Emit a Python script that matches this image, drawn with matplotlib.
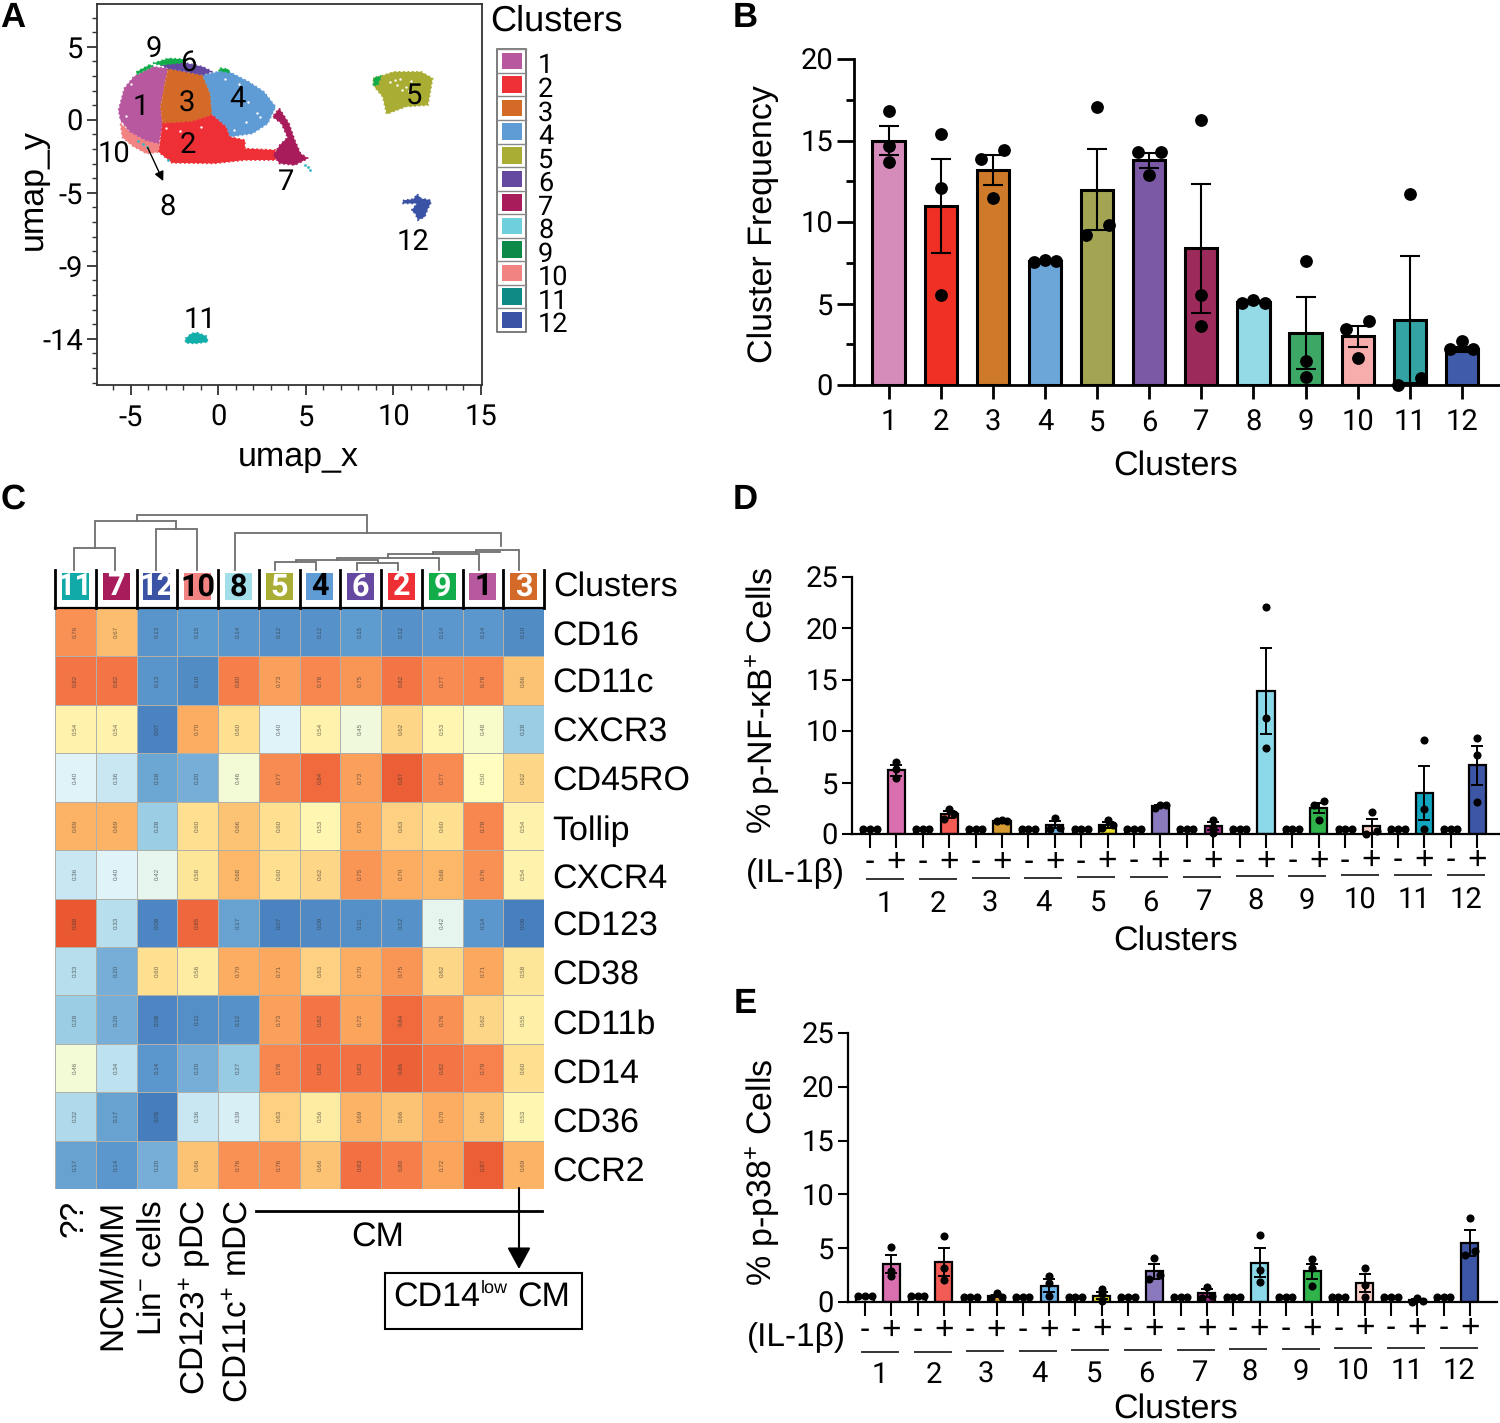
import numpy as np
import matplotlib
matplotlib.use("Agg")
import matplotlib.pyplot as plt
from matplotlib.colors import LinearSegmentedColormap
from matplotlib.patches import Rectangle, Polygon

plt.rcParams['font.family'] = ['Liberation Sans', 'DejaVu Sans']
plt.rcParams['mathtext.fontset'] = 'custom'
plt.rcParams['mathtext.rm'] = 'Liberation Sans'
plt.rcParams['mathtext.default'] = 'regular'
plt.rcParams['axes.unicode_minus'] = False
plt.rcParams['text.hinting'] = 'none'

W, H = 1500, 1423
# the 1 in Liberation Sans has a foot, the reference numerals do not
NUM_FONT = 'Roboto'

clusters = ['1', '2', '3', '4', '5', '6', '7', '8', '9', '10', '11', '12']
legend_colors = ['#b8589f', '#ee2f36', '#d46a27', '#5f9bd5', '#a9ad33', '#6549a0',
                 '#a81c5c', '#6fcfdd', '#0d8a47', '#f28383', '#0f8a85', '#3a53a4']
b_colors = ['#d68cbb', '#f03024', '#cf7a2a', '#6ca6d8', '#a3a552', '#7b59a4',
            '#9c2a5a', '#93d9e6', '#3da866', '#f7adab', '#33a3a3', '#3f5ba9']
de_colors = ['#d96fae', '#f25c54', '#d69a33', '#6db4e8', '#e6dc2a', '#8b79bd',
             '#a0298a', '#8bd8e8', '#2fb34a', '#f9d0c8', '#12a5c0', '#3d55a5']

# UMAP cloud outlines
umap_shapes = [
    ('#f28383', [(-5.6, .0), (-5.05, -.53), (-4.18, -1.07), (-3.41, -1.29), (-3.41, -1.85), (-4.1, -1.95), (-4.84, -1.5), (-5.49, -.9)]),
    ('#b8589f', [(-5.71, .88), (-5.38, 2.29), (-4.84, 3.05), (-3.74, 3.70), (-2.87, 3.59), (-3.09, 2.40), (-3.30, 1.10),
                 (-3.19, .01), (-3.41, -1.29), (-4.18, -1.07), (-5.05, -.53), (-5.60, .23)]),
    ('#d46a27', [(-2.87, 3.59), (-.90, 3.16), (-.46, 1.96), (-.35, .55), (-1.55, .12), (-3.19, .01), (-3.30, 1.10), (-3.09, 2.40)]),
    ('#5f9bd5', [(-.90, 3.16), (.42, 3.48), (1.73, 2.72), (2.60, 2.07), (3.26, 1.10), (2.82, .01), (1.95, -.64), (.63, -.86),
                 (.42, -.21), (-.35, .55), (-.46, 1.96)]),
    ('#ee2f36', [(-3.19, .01), (-1.55, .12), (-.35, .55), (.42, -.21), (.63, -.86), (1.51, -1.07), (1.51, -1.62), (3.26, -1.72),
                 (3.26, -2.37), (1.51, -2.37), (-.24, -2.59), (-2.65, -2.55), (-3.41, -1.85)]),
    ('#a81c5c', [(3.48, .99), (4.03, .01), (4.36, -1.07), (4.69, -1.94), (5.12, -2.26), (4.36, -2.70), (3.48, -2.59), (3.15, -2.05),
                 (3.5, -1.4), (3.95, -.9), (3.6, .0), (3.1, .45)]),
    ('#6549a0', [(-3.30, 3.81), (-2.21, 4.03), (-.90, 3.70), (-.35, 3.38), (-.90, 3.16), (-2.87, 3.59)]),
    ('#12ad4a', [(-3.74, 3.92), (-2.87, 4.24), (-1.77, 4.18), (-1.99, 3.96), (-3.30, 3.81)]),
    ('#12ad4a', [(-4.65, 3.2), (-3.74, 3.72), (-3.9, 3.85), (-4.7, 3.35)]),
    ('#12ad4a', [(0, 3.45), (.65, 3.3), (.55, 3.55), (.1, 3.6)]),
    ('#a9ad33', [(8.84, 2.94), (10.04, 3.37), (11.58, 3.37), (12.24, 2.94), (11.97, 1.20), (10.70, 1.10), (9.61, .62), (9.39, 1.74), (8.91, 2.40)]),
    ('#12ad4a', [(8.84, 2.5), (8.9, 2.98), (9.3, 3.1), (9.1, 2.5)]),
    ('#3a53a4', [(11.36, -4.59), (11.58, -4.87), (12.12, -4.98), (12.12, -5.19), (11.97, -5.52), (11.79, -6.06), (11.40, -6.28),
                 (11.25, -5.85), (11.03, -5.64), (11.36, -5.19), (10.49, -5.19), (10.60, -4.98), (11.14, -4.91)]),
    ('#12aea9', [(-1.88, -13.98), (-1.55, -13.65), (-1.23, -13.59), (-.68, -13.83), (-.61, -14.2), (-1.33, -14.3), (-1.88, -14.26)]),
]
specks_8_x = [-4.1, -4.6, -2.9, -4.3, 4.95, 5.1, 5.25]
specks_8_y = [-1.5, -1.1, -2.35, -1.35, -2.7, -2.85, -3.0]
white_specks_x = [9.8, 10.2, 10.4, 10.7, 10.9, 11.0, 10.5, 10.1, 1.2, 1.7, 2.2, 2.4, 1.6, .9, .4, -5.3, -5.0, -3.0, -2.2, -1.0]
white_specks_y = [2.7, 2.5, 2.9, 2.4, 2.1, 2.8, 2.2, 2.85, 2.6, 1.4, .7, .4, .1, -.4, 2.9, .5, 2.6, -.3, -.5, -.2]

b_means = [15, 11, 13.2, 7.6, 12, 13.8, 8.4, 5.1, 3.2, 3.0, 4.0, 2.2]
b_err = [.9, 2.9, .9, .05, 2.5, .45, 3.95, .05, 2.2, .65, 3.9, .15]
b_points = [[16.8, 14.7, 13.7], [15.4, 12.1, 5.5], [14.4, 13.9, 11.5], [7.55, 7.7, 7.6], [17.1, 9.2, 9.8], [14.3, 14.3, 12.9],
            [16.3, 5.5, 3.6], [5.05, 5.2, 5.05], [7.6, 1.5, .5], [3.95, 3.45, 1.65], [11.75, 0, .4], [2.2, 2.7, 2.2]]

columns = ['11', '7', '12', '10', '8', '5', '4', '6', '2', '9', '1', '3']
tile_colors = ['#12aaa8', '#a81c5c', '#3a53a4', '#f28383', '#a3dfe8', '#a9ad33', '#5f9bd5', '#6549a0', '#ee2f36', '#12ad4a', '#b8589f', '#d46a27']
tile_text = ['white', 'white', 'white', 'black', 'black', 'white', 'black', 'white', 'white', 'white', 'black', 'white']
markers = ['CD16', 'CD11c', 'CXCR3', 'CD45RO', 'Tollip', 'CXCR4', 'CD123', 'CD38', 'CD11b', 'CD14', 'CD36', 'CCR2']
heat = [
    [.76, .67, .13, .15, .14, .12, .12, .15, .12, .14, .14, .10],
    [.82, .82, .13, .10, .80, .73, .78, .75, .82, .77, .78, .66],
    [.54, .54, .07, .70, .60, .40, .54, .45, .62, .53, .48, .28],
    [.40, .36, .18, .20, .46, .77, .84, .73, .87, .77, .50, .62],
    [.69, .69, .28, .60, .66, .60, .53, .70, .63, .60, .78, .54],
    [.36, .40, .42, .58, .68, .60, .62, .75, .70, .68, .76, .54],
    [.88, .33, .08, .85, .17, .07, .09, .11, .12, .42, .14, .06],
    [.33, .20, .60, .56, .70, .71, .63, .70, .75, .62, .71, .58],
    [.28, .20, .08, .11, .12, .73, .82, .72, .84, .76, .62, .55],
    [.46, .34, .14, .20, .27, .78, .83, .83, .86, .82, .79, .60],
    [.32, .17, .05, .36, .39, .63, .56, .69, .66, .70, .66, .53],
    [.17, .14, .20, .66, .76, .76, .66, .83, .80, .72, .87, .69],
]
cell_types = ['??', 'NCM/IMM', 'Lin$^{-}$ cells', 'CD123$^{+}$ pDC', 'CD11c$^{+}$ mDC']

d_minus = [.5] * 12
d_plus = [6.2, 1.9, 1.3, .9, .9, 2.7, .75, 13.9, 2.5, .8, 4.0, 6.7]
d_err = [.55, .3, .05, .35, .3, .1, .4, 4.2, .5, .7, 2.65, 1.9]
d_points = [[7, 6.3, 5.4], [2.4, 1.9, 1.5], [1.3, 1.35, 1.3], [1.6, .6, .5], [1.4, .9, .6], [2.8, 2.8, 2.5],
            [1.4, .7, .1], [22.1, 11.3, 8.4], [3.2, 2.8, 1.4], [2.1, .3, 0], [9.1, 2.4, .5], [9.3, 7.7, 3.1]]
e_minus = [.55, .55, .5, .5, .5, .5, .45, .45, .5, .5, .5, .5]
e_plus = [3.5, 3.7, .55, 1.5, .6, 2.85, .85, 3.65, 2.85, 1.75, .15, 5.5]
e_err = [.85, 1.3, .1, .6, .3, .7, .35, 1.35, .7, .85, .1, 1.2]
e_points = [[5.1, 2.9, 2.4], [6.1, 3.2, 2], [.8, .5, .4], [2.4, 1.8, .6], [1.2, .7, .1], [4.1, 2.5, 2.1],
            [1.4, .6, .4], [6.2, 3.0, 1.9], [4, 3.2, 1.5], [3.2, 1.6, .5], [.4, .05, 0], [7.8, 4.7, 4.4]]

heat_cmap = LinearSegmentedColormap.from_list('heat', [
    (0, '#3a6fb5'), (.15, '#5e9bce'), (.3, '#a5d5e8'), (.4, '#e0f3f8'), (.5, '#ffffbf'), (.6, '#fee090'),
    (.7, '#fdae61'), (.8, '#f67e4b'), (.9, '#e8502d'), (1, '#d73027')])


def px_axes(l, t, r, b):
    return fig.add_axes([l / W, 1 - b / H, (r - l) / W, (b - t) / H])


def spread(vals, step, near):
    # values that nearly tie are set side by side, like a prism scatter
    v = np.sort(np.array(vals, dtype=float))
    dx = np.zeros(3)
    if v[1] - v[0] < near and v[2] - v[1] < near:
        dx[:] = [-step, step, 0]
    elif v[1] - v[0] < near:
        dx[0], dx[1] = -step, step
    elif v[2] - v[1] < near:
        dx[1], dx[2] = -step, step
    return v, dx


def open_axes(ax, lw):
    ax.spines['top'].set_visible(False)
    ax.spines['right'].set_visible(False)
    ax.spines['left'].set_linewidth(lw)
    ax.spines['bottom'].set_linewidth(lw)


fig = plt.figure(figsize=(W / 100, H / 100), dpi=100)

# A
ax = px_axes(97, 4, 482, 385)
for color, pts in umap_shapes:
    ax.add_patch(Polygon(pts, closed=True, facecolor=color, edgecolor=color, linewidth=1.2, linestyle=':'))
ax.scatter(specks_8_x, specks_8_y, s=4, color='#35b8c4', linewidths=0, zorder=3)
ax.scatter(white_specks_x, white_specks_y, s=3, color='white', linewidths=0, zorder=3)
ax.set_xlim(-6.94, 15.06)
ax.set_ylim(-17.0, 7.78)
ax.set_xticks([-5, 0, 5, 10, 15])
ax.set_xticks(np.arange(-6, 15.5, 1), minor=True)
y_ticks = [5, .25, -4.5, -9.25, -14]
ax.set_yticks(y_ticks)
ax.set_yticklabels(['5', '0', '-5', '-9', '-14'])
ax.set_yticks(np.arange(-16.85, 7.7, 4.75 / 5), minor=True)
ax.tick_params(axis='both', which='major', labelsize=21, labelfontfamily=NUM_FONT, width=1.3, color='#333333')
ax.tick_params(axis='x', which='major', length=7, pad=7)
ax.tick_params(axis='y', which='major', length=7, pad=3)
ax.tick_params(axis='both', which='minor', length=3.5, width=1, color='#333333')
for s in ax.spines.values():
    s.set_linewidth(1.3)
    s.set_color('#333333')
ax.annotate('', xy=(-3.09, -3.9), xytext=(-4.11, -1.4), arrowprops=dict(arrowstyle='-|>', color='black', lw=1, mutation_scale=14))

# B
ax = px_axes(854, 59.3, 1500, 385)
xb = np.arange(1, 13)
ax.bar(xb, b_means, width=.62, color=b_colors, edgecolor='black', linewidth=2.2, zorder=2)
ax.errorbar(xb, b_means, yerr=b_err, fmt='none', ecolor='black', elinewidth=1.5, capsize=7, capthick=1.5, zorder=3)
for i, pts in enumerate(b_points):
    v, dx = spread(pts, .22, .9)
    ax.scatter(xb[i] + dx, v, s=85, color='black', zorder=4, clip_on=False, linewidths=0)
ax.set_xlim(.336, 12.73)
ax.set_ylim(0, 20)
ax.set_xticks(xb)
ax.set_xticklabels(clusters)
ax.set_yticks([0, 5, 10, 15, 20])
ax.set_yticks([2.5, 7.5, 12.5, 17.5], minor=True)
open_axes(ax, 2)
ax.tick_params(axis='x', labelsize=21, labelfontfamily=NUM_FONT, length=10, width=2, pad=7)
ax.tick_params(axis='y', labelsize=21, labelfontfamily=NUM_FONT, length=12, width=2, pad=3)
ax.tick_params(axis='y', which='minor', length=6, width=2)


def stim_panel(box, x0, dx, minus, plus, err, points, color):
    l, t, r, b = box
    ax = px_axes(l, t, r, b)
    xs = np.arange(24)
    ax.bar(xs[::2], minus, width=.65, color='white', edgecolor='black', linewidth=1.6, zorder=2)
    ax.bar(xs[1::2], plus, width=.65, color=color, edgecolor='black', linewidth=1.6, zorder=2)
    ax.errorbar(xs[1::2], plus, yerr=err, fmt='none', ecolor='black', elinewidth=1.4, capsize=4.5, capthick=1.4, zorder=3)
    for i, pts in enumerate(points):
        ax.scatter(xs[2 * i] + np.array([-.25, 0, .25]), [minus[i]] * 3, s=34, color='black', zorder=4, linewidths=0, clip_on=False)
        v, off = spread(pts, .2, .5)
        ax.scatter(xs[2 * i + 1] + off, v, s=34, color='black', zorder=4, linewidths=0, clip_on=False)
    ax.set_xlim((l - x0) / dx, (r - x0) / dx)
    ax.set_ylim(0, 25)
    ax.set_xticks(xs)
    ax.set_xticklabels([])
    ax.set_yticks([0, 5, 10, 15, 20, 25])
    open_axes(ax, 1.6)
    ax.tick_params(axis='x', length=10, width=1.5)
    ax.tick_params(axis='y', labelsize=21, labelfontfamily=NUM_FONT, length=7, width=1.5, pad=3)
    return ax


stim_panel((852, 577, 1499, 834), 870, 26.4, d_minus, d_plus, d_err, d_points, de_colors)
stim_panel((848, 1033, 1497, 1302), 865, 26.3, e_minus, e_plus, e_err, e_points, de_colors)

# C heatmap
ax = px_axes(55, 608, 544, 1189)
ax.pcolormesh(np.array(heat), cmap=heat_cmap, vmin=0, vmax=1, edgecolors='#b0b0a8', linewidth=.6)
ax.invert_yaxis()
for r, row in enumerate(heat):
    for c, val in enumerate(row):
        ax.text(c + .5, r + .5, '%.2f' % val, rotation=90, fontsize=4.5, ha='center', va='center', color='#333333', alpha=.7)
ax.set_xticks([])
ax.set_yticks([])
for s in ax.spines.values():
    s.set_visible(False)

# page overlay in pixels for labels and decorations
ov = fig.add_axes([0, 0, 1, 1], zorder=10)
ov.set_xlim(0, W)
ov.set_ylim(H, 0)
ov.axis('off')
ov.patch.set_alpha(0)


def label(x, y, s, size=24.5, ha='center', **kw):
    # horizontal text sits about 2.5 px high with va=center
    ov.text(x, y + 2.5, s, fontsize=size, ha=ha, va='center', **kw)


def vlabel(x, y, s, size=24.5):
    ov.text(x + 3, y, s, fontsize=size, rotation=90, ha='center', va='center')


for letter, x, y in [('A', 13, 15), ('B', 745, 15), ('C', 13, 497), ('D', 745, 497), ('E', 745, 1001)]:
    label(x, y, letter, size=25, fontweight='bold')

# A labels
label(298, 455, 'umap_x')
vlabel(30, 190, 'umap_y')
cluster_px = [(141, 105), (188, 143), (187, 101), (237, 97), (414, 93), (188, 60), (286, 180), (168, 205), (154, 47), (114, 152), (200, 318), (413, 240)]
for name, (x, y) in zip(clusters, cluster_px):
    label(x, y, name, size=21, family=NUM_FONT)
label(490, 19, 'Clusters', size=26, ha='left')
ov.add_patch(Rectangle((497, 49.3), 28.5, 282.7, facecolor='white', edgecolor='#666666', linewidth=1.2))
for i, (name, color) in enumerate(zip(clusters, legend_colors)):
    y = 49.3 + 23.56 * i
    ov.plot([497, 525.5], [y, y], color='#888888', lw=1)
    ov.add_patch(Rectangle((502, y + 3.5), 20, 16.5, facecolor=color, edgecolor='none'))
    label(538, y + 14, name, size=19.5, ha='left', family=NUM_FONT)

# B labels
vlabel(760, 224, 'Cluster Frequency')
label(1176, 463, 'Clusters')

# C header
label(553, 584, 'Clusters', ha='left')
col_w = 489 / 12
for i, (name, color, tc) in enumerate(zip(columns, tile_colors, tile_text)):
    x = 55 + col_w * (i + .5)
    ov.add_patch(Rectangle((x - 13.5, 573), 27, 27, facecolor=color, edgecolor='none'))
    ov.text(x, 587, name, fontsize=22, fontweight='bold', family=NUM_FONT, color=tc, ha='center', va='center')
    ov.plot([x - col_w / 2] * 2, [570, 608], color='black', lw=2)
ov.plot([544, 544], [570, 608], color='black', lw=2)
ov.plot([55, 544], [608, 608], color='black', lw=1.6)

dendro = [
    [(74, 570), (74, 548), (115, 548), (115, 570)],
    [(156, 570), (156, 529), (197, 529), (197, 570)],
    [(95, 548), (95, 521), (176, 521), (176, 529)],
    [(137, 521), (137, 515), (367, 515), (367, 533)],
    [(235, 570), (235, 533), (501, 533), (501, 546)],
    [(275, 570), (275, 562), (316, 562), (316, 570)],
    [(357, 570), (357, 563), (398, 563), (398, 570)],
    [(296, 562), (296, 560), (378, 560), (378, 563)],
    [(337, 560), (337, 558), (439, 558), (439, 570)],
    [(388, 558), (388, 554), (479, 554), (479, 570)],
    [(433, 554), (433, 552), (500, 552)],
    [(476, 552), (476, 550), (519, 550), (519, 570)],
]
for seg in dendro:
    xs, ys = zip(*seg)
    ov.plot(xs, ys, color='#6e6e6e', lw=1.3, solid_joinstyle='miter')

# marker names beside the heatmap
for name, y in zip(markers, [634, 681, 730, 779, 829, 877, 924, 973, 1022, 1072, 1121, 1170]):
    label(552, y, name, ha='left')

# C footer
for name, x in zip(cell_types, [74, 113, 153, 195, 238]):
    ov.text(x, 1200, name, fontsize=24, rotation=90, ha='center', va='top')
ov.plot([256, 542], [1211, 1211], color='black', lw=2)
label(378, 1235, 'CM')
ov.annotate('', xy=(519, 1269), xytext=(519, 1188),
            arrowprops=dict(arrowstyle='-|>,head_width=.3,head_length=.55', color='black', lw=1.5, mutation_scale=24, shrinkA=0, shrinkB=0))
ov.add_patch(Rectangle((385, 1273), 197, 56, facecolor='white', edgecolor='black', linewidth=1.5))
label(393, 1295, 'CD14', ha='left')
label(481, 1286, 'low', size=13, ha='left')
label(570, 1295, 'CM', ha='right')

# D and E labels
vlabel(759, 700, '% p-NF-\u03baB$^{+}$ Cells')
vlabel(759, 1172, '% p-p38$^{+}$ Cells')
for row in [
    dict(x0=870, dx=26.4, sign_y=860, il=(795, 871), line_y=879,
         num_x=[885, 938, 990, 1043, 1098, 1150, 1204, 1256, 1307, 1360, 1414, 1466], num_y=902, title=938),
    dict(x0=865, dx=26.3, sign_y=1328, il=(796, 1335), line_y=1352,
         num_x=[880, 934, 986, 1039, 1094, 1146, 1200, 1250, 1301, 1353, 1407, 1459], num_y=1373, title=1406),
]:
    label(row['il'][0], row['il'][1], '(IL-1\u03b2)', size=24)
    for i in range(12):
        lift = i * .4
        xm = row['x0'] + row['dx'] * 2 * i
        label(xm, row['sign_y'] - lift * .5, '-', size=22)
        label(xm + row['dx'], row['sign_y'] - lift * .5, '+', size=24)
        ov.plot([xm - 3, xm + 33], [row['line_y'] - lift] * 2, color='#333333', lw=1.4)
        label(row['num_x'][i], row['num_y'] - lift, clusters[i], size=21, family=NUM_FONT)
    label(1176, row['title'], 'Clusters')

fig.savefig('out.png', dpi=100)
